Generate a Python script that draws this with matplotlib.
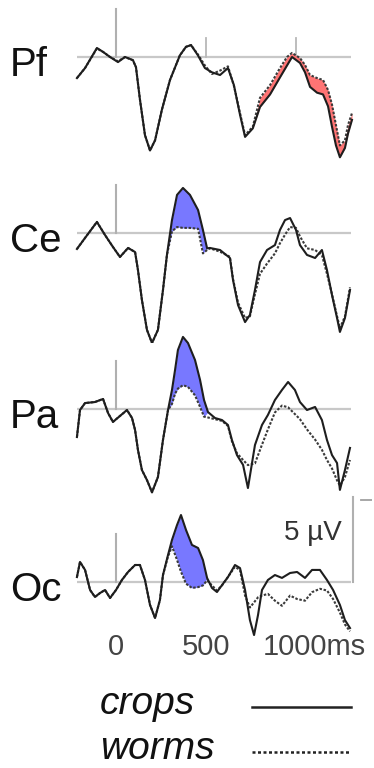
# ERP traces at four sites, crops vs worms
import matplotlib
matplotlib.use("Agg")
from matplotlib import pyplot as plt

plt.rcParams['font.family'] = ['Liberation Sans', 'DejaVu Sans']

# ---- data (ms, microvolts; up = positive) ----
sites = ["Pf", "Ce", "Pa", "Oc"]

t_pf = [-217, -172, -106, -72, -33, 11, 50, 94, 111, 133, 161, 189, 217, 255, 300,
        355, 389, 417, 455, 494, 533, 578, 622, 655, 689, 717, 760, 800, 856, 911,
        950, 978, 1022, 1050, 1078, 1117, 1150, 1178, 1200, 1222, 1244, 1272, 1289, 1311]
pf_crops = [-1.24, -0.65, 0.53, 0.3, 0.0, -0.3, 0.0, -0.18, -0.6, -2.5, -4.6, -5.5, -4.9, -3.1, -1.35,
            0.1, 0.6, 0.7, 0.1, -0.65, -0.9, -1.06, -0.65, -1.65, -3.4, -4.7, -4.2, -2.94, -2.2, -1.2,
            -0.5, 0.0, -0.35, -0.9, -1.76, -2.1, -2.2, -2.9, -4.1, -5.2, -5.9, -5.35, -4.5, -3.7]
pf_worms = [-1.24, -0.65, 0.5, 0.3, 0.0, -0.25, 0.0, -0.2, -0.6, -2.5, -4.6, -5.5, -4.9, -3.1, -1.35,
            0.1, 0.6, 0.7, 0.15, -0.5, -1.0, -0.8, -0.55, -1.7, -3.3, -4.6, -4.1, -2.4, -1.65, -0.65,
            0.0, 0.24, -0.06, -0.47, -1.06, -1.24, -1.35, -1.94, -2.8, -4.0, -5.2, -4.9, -4.0, -3.3]

t_ce = [-217, -172, -106, -61, -17, 22, 67, 106, 122, 144, 172, 200, 233, 261, 283,
        311, 339, 372, 411, 456, 483, 506, 522, 578, 633, 650, 678, 717, 744, 772,
        800, 839, 883, 911, 939, 967, 1000, 1022, 1061, 1106, 1144, 1172, 1200, 1228,
        1244, 1272, 1300]
ce_crops = [-0.94, -0.29, 0.65, -0.12, -0.82, -1.41, -0.88, -1.12, -2.18, -3.94, -5.7, -6.47, -5.7, -3.35, -1.29,
            0.76, 2.24, 2.65, 2.24, 1.35, 0.18, -0.9, -0.88, -1.0, -1.47, -2.76, -4.24, -5.24, -4.82, -3.35,
            -1.71, -1.0, -0.71, 0.18, 0.76, 0.88, 0.18, -0.71, -1.29, -1.47, -1.0, -2.18, -3.65, -5.0,
            -5.82, -5.0, -3.35]
ce_worms = [-0.94, -0.29, 0.65, -0.12, -0.82, -1.41, -0.88, -1.12, -2.18, -3.94, -5.7, -6.47, -5.7, -3.35, -1.29,
            0.1, 0.35, 0.3, 0.3, 0.25, -1.2, -1.0, -0.9, -1.1, -1.4, -2.7, -4.1, -5.0, -4.9, -3.6,
            -2.4, -1.8, -1.2, -0.6, -0.1, 0.35, 0.3, -0.2, -0.9, -1.0, -1.3, -2.4, -3.6, -4.9,
            -5.6, -4.9, -3.2]

t_pa = [-217, -200, -172, -117, -72, -44, -17, 22, 61, 89, 106, 122, 144, 172, 200,
        233, 261, 289, 311, 328, 344, 372, 400, 439, 467, 489, 511, 550, 589, 622,
        644, 672, 706, 733, 772, 811, 844, 883, 922, 956, 994, 1022, 1061, 1106, 1144,
        1172, 1200, 1228, 1244, 1272, 1300]
pa_crops = [-1.65, -0.06, 0.35, 0.41, 0.59, -0.24, -0.76, -0.41, -0.06, -0.53, -1.24, -2.41, -3.59, -4.18, -4.9,
            -4.0, -1.82, -0.06, 1.12, 2.29, 3.47, 4.24, 3.88, 2.88, 1.71, 0.53, -0.18, -0.53, -0.65, -0.94,
            -1.82, -2.71, -3.29, -4.65, -2.12, -0.94, -0.35, 0.53, 1.12, 1.59, 1.12, 0.41, -0.06, 0.12, -0.65,
            -1.82, -2.71, -3.18, -4.76, -3.59, -2.29]
pa_worms = [-1.65, -0.06, 0.35, 0.41, 0.59, -0.24, -0.76, -0.41, -0.06, -0.53, -1.24, -2.41, -3.59, -4.18, -4.9,
            -4.0, -1.82, -0.06, 0.3, 0.9, 1.2, 1.4, 1.3, 0.8, 0.12, -0.45, -0.5, -0.6, -0.7, -1.0,
            -1.9, -2.6, -3.0, -3.3, -3.2, -2.1, -1.2, -0.2, 0.2, 0.1, -0.3, -0.6, -1.2, -1.8, -2.4,
            -3.0, -3.5, -4.2, -4.5, -4.0, -3.0]

t_oc = [-217, -200, -172, -144, -117, -89, -61, -33, 0, 33, 67, 106, 133, 161, 189,
        217, 244, 261, 289, 311, 339, 361, 389, 422, 456, 483, 506, 533, 561, 589,
        622, 661, 689, 717, 744, 767, 789, 811, 844, 883, 922, 967, 1006, 1050, 1089,
        1133, 1172, 1206, 1244, 1272, 1300]
oc_crops = [0.29, 1.18, 0.71, -0.47, -0.88, -0.65, -0.47, -0.94, -0.47, 0.12, 0.59, 1.0, 1.0, 0.12, -1.35,
            -2.12, -1.06, 0.41, 1.59, 2.47, 3.35, 3.94, 3.06, 2.18, 2.0, 1.29, 0.24, -0.35, -0.59, -0.18,
            0.29, 1.0, 0.82, -0.47, -2.24, -3.12, -1.94, -0.47, 0.12, 0.41, 0.24, 0.53, 0.59, 0.24, 0.71,
            0.71, 0.12, -0.47, -1.35, -2.24, -2.71]
oc_worms = [0.29, 1.18, 0.71, -0.47, -0.88, -0.65, -0.47, -0.94, -0.47, 0.12, 0.59, 1.0, 1.0, 0.12, -1.35,
            -2.12, -1.06, 0.41, 1.5, 2.1, 1.3, 0.6, -0.1, -0.35, -0.3, -0.2, 0.1, -0.2, -0.5, -0.2,
            0.3, 0.9, 0.7, -0.8, -1.5, -1.2, -0.9, -0.8, -0.7, -1.1, -1.4, -0.8, -1.0, -1.1, -0.6,
            -0.4, -0.5, -1.0, -1.8, -2.5, -2.9]

times = [t_pf, t_ce, t_pa, t_oc]
crops = [pf_crops, ce_crops, pa_crops, oc_crops]
worms = [pf_worms, ce_worms, pa_worms, oc_worms]

# shaded difference windows (ms) and colours
windows = [(790, 1320), (300, 500), (300, 500), (300, 500)]
fill_colors = ["#ff7474", "#7878ff", "#7878ff", "#7878ff"]

tick_times = [0, 500, 1000]
tick_labels = ["0", "500", "1000ms"]
scale_uv = 5
legend_labels = ["crops", "worms"]

# ---- layout (pixels) ----
W, H = 374, 768
baselines = [57, 233, 409, 582]
PX_PER_MS = 0.18
PX_PER_UV = 17.0
T0_PX = 116
AX_L, AX_R = 66, 372
ABOVE, BELOW = 100, 110


def box(left, top, width, height):
    return [left / W, 1 - (top + height) / H, width / W, height / H]


fig = plt.figure(figsize=(W / 100, H / 100), dpi=100)

for i, site in enumerate(sites):
    b = baselines[i]
    ax = fig.add_axes(box(AX_L, b - ABOVE, AX_R - AX_L, ABOVE + BELOW))
    ax.set_xlim((AX_L - T0_PX) / PX_PER_MS, (AX_R - T0_PX) / PX_PER_MS)
    ax.set_ylim(-BELOW / PX_PER_UV, ABOVE / PX_PER_UV)
    ax.axis("off")
    ax.patch.set_alpha(0)

    t = times[i]
    # baseline and zero axis
    ax.plot([-215, 1305], [0, 0], color="#c8c8c8", lw=1.6, zorder=1, solid_capstyle="butt")
    ax.plot([0, 0], [0, 2.8], color="#b0b0b0", lw=1.5, zorder=1)
    if i == 0:
        for tt in tick_times[1:]:
            ax.plot([tt, tt], [0, 1.1], color="#b8b8b8", lw=1.3, zorder=1)

    w0, w1 = windows[i]
    where = [w0 <= x <= w1 for x in t]
    ax.fill_between(t, crops[i], worms[i], where=where, interpolate=True,
                    color=fill_colors[i], lw=0, zorder=2)
    ax.plot(t, worms[i], color="#3a3a3a", lw=1.5, ls=(0, (1.2, 0.8)), zorder=3)
    ax.plot(t, crops[i], color="#1e1e1e", lw=1.5, zorder=4)

    fig.text(10 / W, 1 - (b + 19) / H, site, fontsize=29, ha="left", va="baseline", color="#111")

    if i == 3:
        # scale bar
        ax.plot([1316, 1316], [0, scale_uv], color="#b0b0b0", lw=1.5, zorder=1)
        ax.plot([1360, 1420], [scale_uv - 0.2, scale_uv - 0.2], color="#a0a0a0", lw=1.3, zorder=1)
        ax.text(1256, 2.9, "5 µV", fontsize=20, ha="right", va="center", color="#333")
        # time ticks
        for tt, lab in zip(tick_times, tick_labels):
            if lab.endswith("ms"):
                ax.text(tt - 185, -3.82, lab, fontsize=21, ha="left", va="center", color="#444")
            else:
                ax.text(tt, -3.82, lab, fontsize=21, ha="center", va="center", color="#444")

# legend
lax = fig.add_axes(box(0, 680, W, 88))
lax.set_xlim(0, W)
lax.set_ylim(768, 680)
lax.axis("off")
styles = ["-", (0, (1.2, 1.0))]
rows = [714, 759]
for lab, st, y in zip(legend_labels, styles, rows):
    lax.text(100, y, lab, fontsize=28, style="italic", ha="left", va="baseline", color="#111")
    lax.plot([252, 351], [y - 7, y - 7], color="#222", lw=1.8, ls=st)

fig.savefig("out.png", dpi=100)
